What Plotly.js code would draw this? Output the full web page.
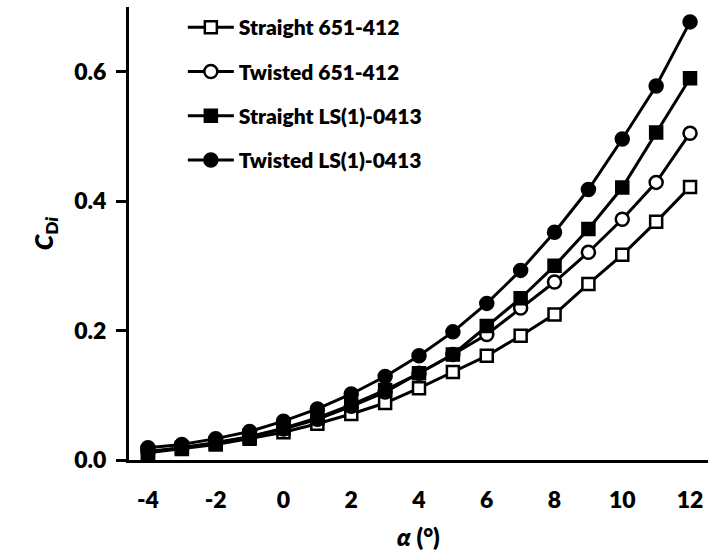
<!DOCTYPE html>
<html>
<head>
<meta charset="utf-8">
<script src="https://cdn.plot.ly/plotly-3.0.1.min.js"></script>
<style>html,body{margin:0;padding:0;background:#fff;}#chart{width:708px;height:560px;}</style>
</head>
<body>
<div id="chart"></div>
<script>
var alpha = [-4,-3,-2,-1,0,1,2,3,4,5,6,7,8,9,10,11,12];
var straight651 = [0.011,0.017,0.024,0.033,0.043,0.056,0.071,0.088,0.111,0.136,0.161,0.192,0.225,0.272,0.317,0.368,0.422];
var twisted651  = [0.013,0.019,0.027,0.036,0.048,0.063,0.083,0.105,0.134,0.163,0.194,0.235,0.275,0.321,0.372,0.429,0.505];
var straightLS  = [0.012,0.019,0.026,0.036,0.049,0.065,0.085,0.108,0.134,0.163,0.207,0.250,0.300,0.357,0.421,0.506,0.590];
var twistedLS   = [0.019,0.024,0.033,0.044,0.060,0.079,0.102,0.129,0.161,0.198,0.242,0.293,0.352,0.418,0.496,0.578,0.677];
var seriesNames = ['Straight 651-412','Twisted 651-412','Straight LS(1)-0413','Twisted LS(1)-0413'];
var xTicks = [-4,-2,0,2,4,6,8,10,12];
var yTicks = [0,0.2,0.4,0.6];
var yTickText = ['0.0','0.2','0.4','0.6'];

var FONT = 'Lato, "Open Sans", "DejaVu Sans", sans-serif';
var W = 800;
function tr(y, name, sym, fill, order) {
  return {
    x: alpha, y: y, name: name, type: 'scatter', mode: 'lines+markers',
    line: {color: '#000', width: 3},
    marker: {symbol: sym, size: sym.indexOf('square') >= 0 ? 12 : 13,
             color: fill, line: {color: '#000', width: 2.5}},
    legendgroup: 'g' + order, legendrank: order
  };
}
var data = [
  tr(straight651, seriesNames[0], 'square', '#fff', 1),
  tr(twisted651, seriesNames[1], 'circle', '#fff', 2),
  tr(straightLS, seriesNames[2], 'square', '#000', 3),
  tr(twistedLS, seriesNames[3], 'circle', '#000', 4)
];
var layout = {
  width: 708, height: 560,
  margin: {l: 129, r: 0, t: 7, b: 100},
  paper_bgcolor: '#fff', plot_bgcolor: '#fff',
  font: {family: FONT, size: 23, color: '#000', weight: W},
  showlegend: true,
  legend: {x: 0.093, y: 1.0, xanchor: 'left', yanchor: 'top',
           font: {family: FONT, size: 21, color: '#000', weight: W},
           tracegroupgap: 14, itemwidth: 46, bgcolor: 'rgba(0,0,0,0)'},
  xaxis: {
    range: [-4.56, 12.53], tickvals: xTicks, ticktext: xTicks.map(String),
    showgrid: false, zeroline: false, showline: true, linecolor: '#000', linewidth: 3,
    ticks: '', ticklabelstandoff: 17,
    tickfont: {family: FONT, size: 23, color: '#000', weight: W},
    title: {text: '<i>α</i> (°)', font: {family: FONT, size: 24, color: '#000', weight: W}, standoff: 18}
  },
  yaxis: {
    range: [0, 0.7], tickvals: yTicks, ticktext: yTickText,
    showgrid: false, zeroline: false, showline: true, linecolor: '#000', linewidth: 3,
    ticks: 'outside', ticklen: 10, tickwidth: 3, tickcolor: '#000', ticklabelstandoff: 5,
    tickfont: {family: FONT, size: 23, color: '#000', weight: W},
    title: {text: '<i>C</i><sub>D<i>i</i></sub>', font: {family: FONT, size: 25, color: '#000', weight: W}, standoff: 14}
  }
};
Plotly.newPlot('chart', data, layout, {displayModeBar: false, staticPlot: true});
</script>
</body>
</html>
